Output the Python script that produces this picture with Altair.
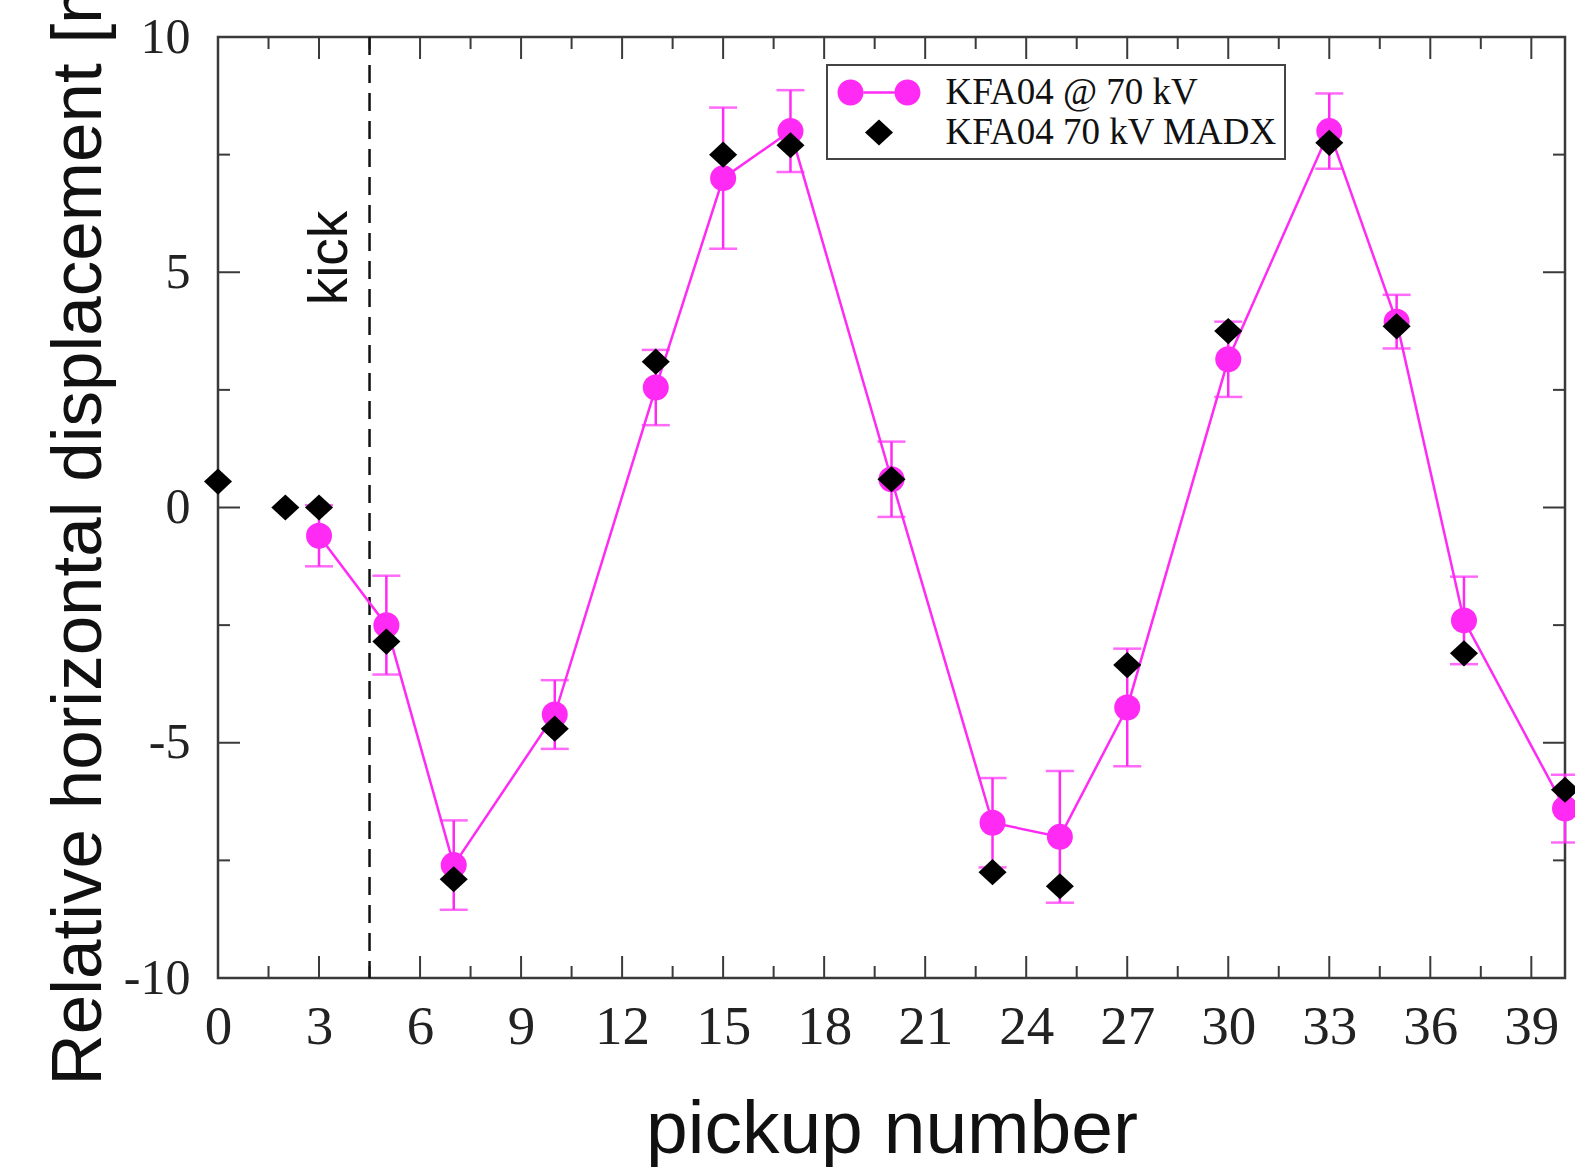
import altair as alt
import pandas as pd

# Measured beam position at the pickups (mm) with their uncertainties
pickup_meas = [3, 5, 7, 10, 13, 15, 17, 20, 23, 25, 27, 30, 33, 35, 37, 40]
disp_meas = [-0.6, -2.5, -7.6, -4.4, 2.55, 7.0, 8.0, 0.6, -6.7, -7.0, -4.25, 3.15, 8.0, 3.95, -2.4, -6.4]
disp_err = [0.65, 1.05, 0.95, 0.73, 0.8, 1.5, 0.87, 0.8, 0.95, 1.4, 1.25, 0.8, 0.8, 0.57, 0.93, 0.72]

# MADX model prediction
pickup_madx = [0, 2, 3, 5, 7, 10, 13, 15, 17, 20, 23, 25, 27, 30, 33, 35, 37, 40]
disp_madx = [0.55, 0.0, 0.0, -2.85, -7.9, -4.7, 3.1, 7.5, 7.7, 0.6, -7.75, -8.05, -3.35, 3.75, 7.75, 3.85, -3.1, -6.0]

series_names = ["KFA04 @ 70 kV", "KFA04 70 kV MADX"]
kick_pickup = [4.5]
kick_text = ["kick"]

x_major = [0, 3, 6, 9, 12, 15, 18, 21, 24, 27, 30, 33, 36, 39]
x_minor = [1.5, 4.5, 7.5, 10.5, 13.5, 16.5, 19.5, 22.5, 25.5, 28.5, 31.5, 34.5, 37.5]
y_major = [-10, -5, 0, 5, 10]
y_minor = [-7.5, -2.5, 2.5, 7.5]

MAGENTA = "#ff2bf5"
FRAME = "#3a3a3a"
W, H = 1347, 941

meas = pd.DataFrame({
    "pickup": pickup_meas,
    "disp": disp_meas,
    "lo": [v - e for v, e in zip(disp_meas, disp_err)],
    "hi": [v + e for v, e in zip(disp_meas, disp_err)],
    "series": series_names[0],
})
madx = pd.DataFrame({"pickup": pickup_madx, "disp": disp_madx, "series": series_names[1]})
caps = pd.DataFrame({
    "pickup": pickup_meas + pickup_meas,
    "disp": list(meas["lo"]) + list(meas["hi"]),
})
kick = pd.DataFrame({"pickup": kick_pickup, "label": kick_text})

xs = alt.Scale(domain=[0, 40], nice=False, zero=False)
ys = alt.Scale(domain=[-10, 10], nice=False, zero=False)

# plain hyphen for negative tick labels
hyphen_labels = "datum.value < 0 ? '-' + format(-datum.value, 'd') : datum.label"

x_axis = alt.Axis(
    values=x_major, title="pickup number", ticks=False, tickSize=0, domain=False, grid=False,
    labelFont="Liberation Serif", labelFontSize=55, labelColor="#222", labelPadding=22,
    labelFlush=False, labelOverlap=False,
    titleFont="Liberation Sans", titleFontSize=75, titleFontWeight="normal", titleColor="#111",
    titleY=174, titleBaseline="alphabetic",
)
y_axis = alt.Axis(
    values=y_major, title="Relative horizontal displacement [mm]", ticks=False, tickSize=0,
    domain=False, grid=False, labelExpr=hyphen_labels,
    labelFont="Liberation Serif", labelFontSize=50, labelColor="#222", labelPadding=28,
    labelFlush=False, labelOverlap=False,
    titleFont="Liberation Sans", titleFontSize=71, titleFontWeight="normal", titleColor="#111",
    titleAngle=270, titleAlign="left", titleBaseline="alphabetic", titleX=-118, titleY=1048,
)


def X(field):
    return alt.X(field, type="quantitative", scale=xs, axis=x_axis)


def Y(field):
    return alt.Y(field, type="quantitative", scale=ys, axis=y_axis)


# Legend symbols: circle-line-circle for the measurement, small diamond for MADX
line_symbol = (
    "M -2.127 0 A 0.667 0.667 0 1 0 -0.793 0 A 0.667 0.667 0 1 0 -2.127 0 Z "
    "M 0.793 0 A 0.667 0.667 0 1 0 2.127 0 A 0.667 0.667 0 1 0 0.793 0 Z "
    "M -0.79 -0.07 L 0.79 -0.07 L 0.79 0.07 L -0.79 0.07 Z"
)
diamond_symbol = "M 0 -0.67 L 0.72 0 L 0 0.67 L -0.72 0 Z"

legend = alt.Legend(
    title=None, orient="none", legendX=609, legendY=28, padding=8, rowPadding=2,
    symbolOffset=24.5, labelOffset=47, symbolSize=1521, symbolStrokeWidth=0,
    labelFont="Liberation Serif", labelFontSize=37, labelColor="#111", labelLimit=600,
    strokeColor="#444", fillColor="white",
)
color = alt.Color("series:N", scale=alt.Scale(domain=series_names, range=[MAGENTA, "black"]), legend=legend)
shape = alt.Shape("series:N", scale=alt.Scale(domain=series_names, range=[line_symbol, diamond_symbol]), legend=legend)

kick_line = alt.Chart(kick).mark_rule(color="#111", strokeWidth=2.5, strokeDash=[18, 10]).encode(x=X("pickup"))
kick_label = alt.Chart(kick).mark_text(
    angle=270, font="Liberation Sans", fontSize=55, color="#111", align="center",
    baseline="alphabetic", dy=-23,
).encode(x=X("pickup"), y=alt.value(221), text="label:N")

err_bars = alt.Chart(meas).mark_rule(color=MAGENTA, strokeWidth=2.5).encode(x=X("pickup"), y=Y("lo"), y2="hi")
err_caps = alt.Chart(caps).mark_tick(orient="horizontal", size=28, thickness=2.5, color=MAGENTA).encode(
    x=X("pickup"), y=Y("disp"))
meas_line = alt.Chart(meas).mark_line(color=MAGENTA, strokeWidth=2.5).encode(x=X("pickup"), y=Y("disp"))
meas_pts = alt.Chart(meas).mark_circle(size=676, opacity=1).encode(x=X("pickup"), y=Y("disp"), color=color)
madx_pts = alt.Chart(madx).mark_point(filled=True, size=1521, opacity=1).encode(
    x=X("pickup"), y=Y("disp"), color=color, shape=shape)


# Inward-pointing ticks on all four sides of the frame
def xticks(values, length):
    df = pd.DataFrame({"pickup": values})
    bottom = alt.Chart(df).mark_rule(color=FRAME, strokeWidth=2).encode(
        x=X("pickup"), y=alt.value(H), y2=alt.value(H - length))
    top = alt.Chart(df).mark_rule(color=FRAME, strokeWidth=2).encode(
        x=X("pickup"), y=alt.value(0), y2=alt.value(length))
    return [bottom, top]


def yticks(values, length):
    df = pd.DataFrame({"disp": values})
    left = alt.Chart(df).mark_rule(color=FRAME, strokeWidth=2).encode(
        y=Y("disp"), x=alt.value(0), x2=alt.value(length))
    right = alt.Chart(df).mark_rule(color=FRAME, strokeWidth=2).encode(
        y=Y("disp"), x=alt.value(W), x2=alt.value(W - length))
    return [left, right]


tick_layers = xticks(x_major, 22) + xticks(x_minor, 12) + yticks(y_major, 22) + yticks(y_minor, 12)

chart = alt.layer(
    *tick_layers, kick_line, kick_label, err_bars, err_caps, meas_line, meas_pts, madx_pts
).properties(
    width=W, height=H,
    autosize=alt.AutoSizeParams(type="none"),
    padding={"left": 218, "top": 37, "right": 10, "bottom": 189},
    background="white",
).configure_view(
    stroke=FRAME, strokeWidth=2.5
).configure_legend(
    strokeWidth=2
)

chart.save("out.html", embed_options={"renderer": "svg", "actions": False})
